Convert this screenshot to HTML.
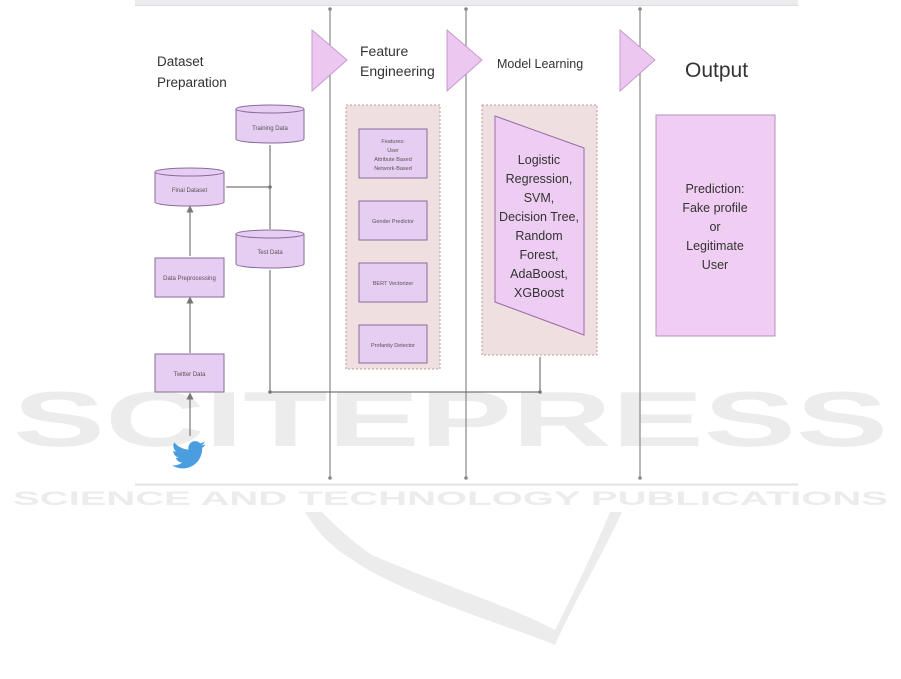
<!DOCTYPE html>
<html><head><meta charset="utf-8"><style>
html,body{margin:0;padding:0;background:#fff;}
svg{display:block;}
text{font-family:"Liberation Sans",sans-serif;}
</style></head><body>
<svg width="901" height="679" viewBox="0 0 901 679" xmlns="http://www.w3.org/2000/svg">
<defs>
<marker id="ah" markerWidth="6" markerHeight="6" refX="3" refY="3" orient="auto"><path d="M0,0 L6,3 L0,6 z" fill="#777"/></marker>
</defs>
<rect x="135" y="0" width="663" height="5" fill="#ececf0"/>
<line x1="135" y1="5.5" x2="798" y2="5.5" stroke="#dcdce2"/>

<!-- watermark (behind) -->
<g fill="#ececec">
<text x="13" y="446" font-size="78" font-weight="bold" textLength="875" lengthAdjust="spacingAndGlyphs">SCITEPRESS</text>
<text x="13" y="505" font-size="19" font-weight="bold" textLength="875" lengthAdjust="spacingAndGlyphs">SCIENCE AND TECHNOLOGY PUBLICATIONS</text>
<path d="M305,512 C325,545 345,555 365,568 C420,600 520,630 555,645 C575,600 600,560 622,512 L610,512 C590,560 570,600 555,630 C520,610 430,580 372,555 C350,540 335,525 322,512 Z"/>
</g>
<line x1="135" y1="484.5" x2="798" y2="484.5" stroke="#e2e2e2" stroke-width="2"/>

<!-- vertical lanes -->
<g stroke="#888" stroke-width="1.2">
<line x1="330" y1="9" x2="330" y2="478"/>
<line x1="466" y1="9" x2="466" y2="478"/>
<line x1="640" y1="9" x2="640" y2="478"/>
</g>
<g fill="#888"><circle cx="330" cy="9" r="1.8"/><circle cx="466" cy="9" r="1.8"/><circle cx="640" cy="9" r="1.8"/>
<circle cx="330" cy="478" r="1.8"/><circle cx="466" cy="478" r="1.8"/><circle cx="640" cy="478" r="1.8"/></g>

<!-- triangles -->
<g fill="#ecc8f0" stroke="#c79ad0" stroke-width="1">
<polygon points="312,30 347,60 312,91"/>
<polygon points="447,30 482,60 447,91"/>
<polygon points="620,30 655,60 620,91"/>
</g>

<!-- headings -->
<g fill="#333">
<text x="157" y="66" font-size="13.5">Dataset</text>
<text x="157" y="87" font-size="13.5">Preparation</text>
<text x="360" y="56" font-size="14">Feature</text>
<text x="360" y="76" font-size="14">Engineering</text>
<text x="497" y="68" font-size="12.5">Model Learning</text>
<text x="685" y="77" font-size="21">Output</text>
</g>

<!-- connectors -->
<g stroke="#777" stroke-width="1.2" fill="none">
<line x1="190" y1="353" x2="190" y2="300" marker-end="url(#ah)"/>
<line x1="190" y1="436" x2="190" y2="396" marker-end="url(#ah)"/>
<line x1="190" y1="256" x2="190" y2="209" marker-end="url(#ah)"/>
<line x1="226" y1="187" x2="270" y2="187"/>
<line x1="270" y1="145" x2="270" y2="229"/>
<polyline points="270,270 270,392 540,392 540,357"/>
</g>
<g fill="#777"><circle cx="270" cy="187" r="1.8"/><circle cx="270" cy="392" r="1.8"/><circle cx="540" cy="392" r="1.8"/></g>

<!-- cylinders -->
<g fill="#e6cdf2" stroke="#8a6a9a" stroke-width="1">
<path d="M236,109 v30 a34,4 0 0 0 68,0 v-30"/>
<ellipse cx="270" cy="109" rx="34" ry="4"/>
<path d="M155,172 v30 a34,4 0 0 0 69,0 v-30"/>
<ellipse cx="189.5" cy="172" rx="34.5" ry="4"/>
<path d="M236,234 v30 a34,4 0 0 0 68,0 v-30"/>
<ellipse cx="270" cy="234" rx="34" ry="4"/>
<rect x="155" y="258" width="69" height="39"/>
<rect x="155" y="354" width="69" height="38"/>
</g>
<g fill="#555" font-size="6" text-anchor="middle">
<text x="270" y="130">Training Data</text>
<text x="189.5" y="192">Final Dataset</text>
<text x="270" y="254">Test Data</text>
<text x="189.5" y="280">Data Preprocessing</text>
<text x="189.5" y="376">Twitter Data</text>
</g>

<!-- twitter bird -->
<g transform="translate(172,438) scale(1.4)">
<path fill="#4a9ee0" d="M23.954 4.569c-.885.389-1.83.654-2.825.775 1.014-.611 1.794-1.574 2.163-2.723-.951.555-2.005.959-3.127 1.184-.896-.959-2.173-1.559-3.591-1.559-2.717 0-4.92 2.203-4.92 4.917 0 .39.045.765.127 1.124C7.691 8.094 4.066 6.13 1.640 3.161c-.427.722-.666 1.561-.666 2.475 0 1.710.870 3.213 2.188 4.096-.807-.026-1.566-.248-2.228-.616v.061c0 2.385 1.693 4.374 3.946 4.827-.413.111-.849.171-1.296.171-.314 0-.615-.03-.916-.086.631 1.953 2.445 3.377 4.604 3.417-1.680 1.319-3.809 2.073-6.102 2.073-.39 0-.779-.023-1.170-.067 2.189 1.394 4.768 2.209 7.557 2.209 9.054 0 13.999-7.496 13.999-13.986 0-.209 0-.42-.015-.63.961-.689 1.800-1.620 2.460-2.520z"/>
</g>

<!-- feature box -->
<rect x="346" y="105" width="94" height="264" fill="#efdfe1" stroke="#b99" stroke-dasharray="2,2"/>
<g fill="#e6cdf2" stroke="#8a6a9a" stroke-width="1">
<rect x="359" y="129" width="68" height="49"/>
<rect x="359" y="201" width="68" height="39"/>
<rect x="359" y="263" width="68" height="39"/>
<rect x="359" y="325" width="68" height="38"/>
</g>
<g fill="#555" font-size="5.5" text-anchor="middle">
<text x="393" y="143">Features:</text>
<text x="393" y="152">User</text>
<text x="393" y="161">Attribute Based</text>
<text x="393" y="170">Network-Based</text>
<text x="393" y="223">Gender Predictor</text>
<text x="393" y="285">BERT Vectorizer</text>
<text x="393" y="347">Profanity Detector</text>
</g>

<!-- model box -->
<rect x="482" y="105" width="115" height="250" fill="#efdfe1" stroke="#b99" stroke-dasharray="2,2"/>
<polygon points="495,116 584,148 584,335 495,302" fill="#eecdf2" stroke="#9a6aa8" stroke-width="1"/>
<g fill="#333" font-size="12.5" text-anchor="middle">
<text x="539" y="164">Logistic</text>
<text x="539" y="183">Regression,</text>
<text x="539" y="202">SVM,</text>
<text x="539" y="221">Decision Tree,</text>
<text x="539" y="240">Random</text>
<text x="539" y="259">Forest,</text>
<text x="539" y="278">AdaBoost,</text>
<text x="539" y="297">XGBoost</text>
</g>

<!-- output -->
<rect x="656" y="115" width="119" height="221" fill="#f0cdf2" stroke="#b590c0" stroke-width="1"/>
<g fill="#333" font-size="12.5" text-anchor="middle">
<text x="715" y="193">Prediction:</text>
<text x="715" y="212">Fake profile</text>
<text x="715" y="231">or</text>
<text x="715" y="250">Legitimate</text>
<text x="715" y="269">User</text>
</g>
</svg>
</body></html>
